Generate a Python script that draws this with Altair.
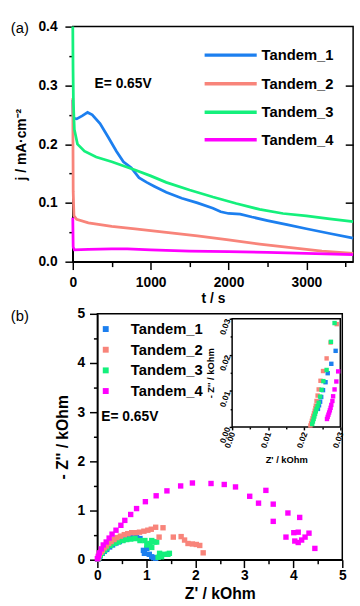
import altair as alt
import pandas as pd

FONT = "Liberation Sans"
SERIES = ["Tandem_1", "Tandem_2", "Tandem_3", "Tandem_4"]
COLORS = ["#1C7FEF", "#F8847A", "#14F07C", "#FF00FF"]

# ---------- (a) current density vs time ----------
t1 = [0, 3, 10, 50, 120, 190, 250, 350, 450, 560, 650, 750, 850, 950, 1050, 1200,
      1400, 1600, 1800, 1900, 2000, 2150, 2300, 2500, 2750, 3000, 3300, 3600]
j1 = [0.275, 0.250, 0.244, 0.243, 0.248, 0.254, 0.250, 0.235, 0.213, 0.188, 0.170,
      0.160, 0.143, 0.135, 0.128, 0.118, 0.108, 0.100, 0.091, 0.085, 0.082, 0.081,
      0.076, 0.070, 0.063, 0.056, 0.048, 0.040]
t2 = [0, 5, 15, 50, 200, 500, 800, 1200, 1600, 2000, 2400, 2800, 3200, 3600]
j2 = [0.278, 0.120, 0.078, 0.072, 0.066, 0.060, 0.056, 0.050, 0.044, 0.037, 0.030,
      0.024, 0.018, 0.014]
t3 = [0, 3, 8, 20, 60, 150, 300, 500, 800, 1000, 1200, 1500, 1800, 2100, 2400, 2700,
      3000, 3300, 3600]
j3 = [0.400, 0.330, 0.270, 0.225, 0.200, 0.188, 0.178, 0.170, 0.156, 0.146, 0.135,
      0.122, 0.110, 0.099, 0.089, 0.082, 0.078, 0.073, 0.068]
t4 = [0, 5, 20, 200, 500, 700, 1000, 1500, 2000, 2500, 3000, 3600]
j4 = [0.075, 0.025, 0.020, 0.021, 0.022, 0.022, 0.020, 0.018, 0.017, 0.016, 0.014, 0.012]

T_TICKS = [0, 500, 1000, 1500, 2000, 2500, 3000, 3500]
J_TICKS = [0, 0.05, 0.1, 0.15, 0.2, 0.25, 0.3, 0.35, 0.4]

# legend placement for panel (a), in the panel's own data units
LEG_T0, LEG_T1, LEG_TL = 1693, 2362, 2425
LEG_J = [0.3515, 0.3029, 0.2544, 0.2075]

# ---------- (b) Nyquist plot ----------
zr1 = [0.01, 0.03, 0.06, 0.10, 0.14, 0.19, 0.25, 0.31, 0.38, 0.45, 0.52, 0.59, 0.66,
       0.73, 0.80, 0.87, 0.94, 1.01, 0.96, 1.06, 1.11, 1.15, 1.19]
zi1 = [0.01, 0.04, 0.08, 0.13, 0.17, 0.21, 0.26, 0.30, 0.34, 0.37, 0.40, 0.42, 0.44,
       0.46, 0.45, 0.43, 0.19, 0.23, 0.13, 0.11, 0.06, 0.04, 0.03]
zr2 = [0.01, 0.02, 0.04, 0.07, 0.10, 0.14, 0.18, 0.23, 0.28, 0.34, 0.40, 0.47, 0.55,
       0.62, 0.70, 0.78, 0.86, 0.95, 1.03, 1.10, 1.19, 1.34, 1.26, 1.55, 1.71, 1.78,
       1.85, 1.94, 2.02, 2.09, 2.16]
zi2 = [0.02, 0.05, 0.10, 0.15, 0.19, 0.24, 0.28, 0.33, 0.37, 0.41, 0.45, 0.48, 0.51,
       0.53, 0.55, 0.55, 0.56, 0.58, 0.60, 0.62, 0.66, 0.65, 0.46, 0.46, 0.47, 0.40,
       0.33, 0.32, 0.31, 0.29, 0.14]
zr3 = [0.01, 0.03, 0.06, 0.10, 0.15, 0.20, 0.27, 0.35, 0.43, 0.52, 0.60, 0.68, 0.77,
       0.87, 0.97, 1.11, 1.17, 1.07, 1.01, 1.11, 1.21, 1.27, 1.37, 1.47, 1.31, 1.24, 1.44]
zi3 = [0.02, 0.05, 0.09, 0.14, 0.19, 0.24, 0.29, 0.33, 0.36, 0.39, 0.41, 0.42, 0.43,
       0.39, 0.39, 0.39, 0.36, 0.33, 0.30, 0.25, 0.36, 0.13, 0.11, 0.13, 0.06, 0.05, 0.11]
zr4 = [0.00, 0.02, 0.04, 0.08, 0.12, 0.18, 0.24, 0.30, 0.38, 0.48, 0.56, 0.68, 0.80,
       0.98, 1.20, 1.42, 1.70, 1.94, 2.32, 2.59, 2.82, 3.11, 3.29, 3.44, 3.59, 3.59,
       3.89, 3.85, 4.13, 4.01, 4.10, 4.03, 4.10, 4.17, 4.24, 4.32, 4.44]
zi4 = [0.02, 0.07, 0.14, 0.22, 0.30, 0.36, 0.44, 0.52, 0.60, 0.70, 0.80, 0.92, 1.04,
       1.18, 1.30, 1.40, 1.50, 1.56, 1.55, 1.53, 1.48, 1.29, 1.15, 1.41, 1.13, 0.78,
       0.95, 0.46, 0.86, 0.55, 0.56, 0.38, 0.35, 0.40, 0.46, 0.54, 0.23]

# inset (high-frequency region)
izr1 = [0.0238, 0.0241, 0.0244, 0.0247, 0.0252, 0.0259, 0.0265, 0.0275, 0.0287]
izi1 = [0.0050, 0.0060, 0.0070, 0.0083, 0.0102, 0.0124, 0.0149, 0.0175, 0.0211]
izr2 = [0.0217, 0.0219, 0.0221, 0.0223, 0.0225, 0.0227, 0.0229, 0.0231, 0.0232,
        0.0234, 0.0237, 0.0240, 0.0245, 0.0252, 0.0262, 0.0273, 0.0290]
izi2 = [0.0004, 0.0010, 0.0017, 0.0024, 0.0031, 0.0038, 0.0045, 0.0052, 0.0059,
        0.0072, 0.0087, 0.0104, 0.0128, 0.0155, 0.0190, 0.0234, 0.0285]
izr3 = [0.0222, 0.0224, 0.0226, 0.0228, 0.0230, 0.0232, 0.0234, 0.0237, 0.0240,
        0.0244, 0.0248, 0.0253, 0.0262, 0.0274, 0.0284]
izi3 = [0.0008, 0.0015, 0.0022, 0.0029, 0.0036, 0.0043, 0.0050, 0.0058, 0.0067,
        0.0084, 0.0103, 0.0127, 0.0158, 0.0236, 0.0288]
izr4 = [0.0263, 0.0265, 0.0267, 0.0269, 0.0271, 0.0273, 0.0275, 0.0278, 0.0280,
        0.0284, 0.0289, 0.0294]
izi4 = [0.0022, 0.0028, 0.0034, 0.0040, 0.0046, 0.0053, 0.0061, 0.0072, 0.0085,
        0.0104, 0.0126, 0.0154]

Z_TICKS = [0, 0.5, 1, 1.5, 2, 2.5, 3, 3.5, 4, 4.5, 5]
I_TICKS = [0, 0.005, 0.01, 0.015, 0.02, 0.025, 0.03]

# inset geometry inside panel (b): 110 px square, 162 px right / 135 px up from the origin
INSET_PX = 110.0
IN_LEFT, IN_BOTTOM, PANEL_W, PANEL_H = 162, 135, 274, 250
PER_PX = 0.03 / INSET_PX
IY_DOMAIN = [-IN_BOTTOM * PER_PX, -IN_BOTTOM * PER_PX + PANEL_H * PER_PX]


def df(xs, ys, name, xn, yn):
    return pd.DataFrame({xn: xs, yn: ys, "series": name})


top_df = pd.concat([df(t1, j1, SERIES[0], "t", "j"), df(t2, j2, SERIES[1], "t", "j"),
                    df(t3, j3, SERIES[2], "t", "j"), df(t4, j4, SERIES[3], "t", "j")])
nyq_df = pd.concat([df(zr1, zi1, SERIES[0], "zr", "zi"), df(zr3, zi3, SERIES[2], "zr", "zi"),
                    df(zr2, zi2, SERIES[1], "zr", "zi"), df(zr4, zi4, SERIES[3], "zr", "zi")])
ins_df = pd.concat([df(izr1, izi1, SERIES[0], "ix", "iy"), df(izr2, izi2, SERIES[1], "ix", "iy"),
                    df(izr3, izi3, SERIES[2], "ix", "iy"), df(izr4, izi4, SERIES[3], "ix", "iy")])
leg_df = pd.DataFrame({"series": SERIES, "t": LEG_T0, "t2": LEG_T1, "tl": LEG_TL, "j": LEG_J})

color_scale = alt.Scale(domain=SERIES, range=COLORS)

# ---------- top panel ----------
top_x_axis = alt.Axis(values=T_TICKS, title="t / s",
                      labelExpr="datum.value % 1000 == 0 ? format(datum.value, 'd') : ''",
                      tickSize={"condition": {"test": "datum.value % 1000 == 0", "value": 8}, "value": 5},
                      labelFontSize=14, titleFontSize=14, labelPadding=6, titlePadding=3,
                      labelFlush=False)
top_y_axis = alt.Axis(values=J_TICKS, title="j / mA·cm⁻²",
                      labelExpr="round(datum.value * 20) % 2 == 0 ? format(datum.value, '.1f') : ''",
                      tickSize={"condition": {"test": "round(datum.value * 20) % 2 == 0", "value": 8}, "value": 4},
                      labelFontSize=14, titleFontSize=14, labelPadding=8, titlePadding=10,
                      labelFlush=False)

t_x = alt.X("t:Q", scale=alt.Scale(domain=[0, 3600], nice=False), axis=top_x_axis)
j_y = alt.Y("j:Q", scale=alt.Scale(domain=[0, 0.4], nice=False), axis=top_y_axis)
top_color = alt.Color("series:N", scale=color_scale, legend=None)

lines = alt.Chart(top_df).mark_line(strokeWidth=2.8).encode(x=t_x, y=j_y, color=top_color)

leg_lines = alt.Chart(leg_df).mark_rule(strokeWidth=3.5).encode(
    x=t_x, x2="t2:Q", y=j_y, color=top_color)
leg_text = alt.Chart(leg_df).mark_text(
    align="left", baseline="middle", font=FONT, fontSize=15, fontWeight="bold", color="black"
).encode(x=alt.X("tl:Q", scale=alt.Scale(domain=[0, 3600], nice=False), axis=top_x_axis),
         y=j_y, text="series:N")

ann_top = alt.Chart(pd.DataFrame({"t": [280], "j": [0.302], "label": ["E= 0.65V"]})).mark_text(
    align="left", baseline="middle", font=FONT, fontSize=14, fontWeight="bold", color="black"
).encode(
    x=t_x,
    y=alt.Y("j:Q", scale=alt.Scale(domain=[0, 0.4], nice=False),
            axis=alt.Axis(orient="right", offset=-8, values=[0.1, 0.2, 0.3], labels=False,
                          domain=False, tickSize=8, title=None)),
    text="label:N",
)

lab_a = alt.Chart(pd.DataFrame({"k": [0]})).mark_text(
    align="left", baseline="middle", font=FONT, fontSize=15, color="black"
).encode(x=alt.value(-63), y=alt.value(1), text=alt.value("(a)"))

top = alt.layer(
    alt.layer(lines, leg_lines, leg_text), ann_top, lab_a
).resolve_scale(y="independent").properties(width=285, height=239)

# ---------- bottom panel ----------
bottom_legend = alt.Legend(title=None, orient="none", legendX=26, legendY=8, padding=0,
                           symbolType="square", symbolSize=36, symbolOpacity=1,
                           labelFont=FONT, labelFontSize=15, labelFontWeight="bold",
                           labelColor="black", labelOffset=18, rowPadding=5)

half = "round(datum.value * 2) % 2 == 0"
bx_axis = alt.Axis(values=Z_TICKS, title="Z' / kOhm",
                   labelExpr=half + " ? format(datum.value, 'd') : ''",
                   tickSize={"condition": {"test": half, "value": 8}, "value": 4},
                   labelFontSize=14, titleFontSize=16, labelPadding=1, titlePadding=3,
                   labelFlush=False)
by_axis = alt.Axis(values=Z_TICKS, title="- Z'' / kOhm", offset=-25,
                   labelExpr=half + " ? format(datum.value, 'd') : ''",
                   tickSize={"condition": {"test": half, "value": 8}, "value": 4},
                   labelFontSize=14, titleFontSize=16, labelPadding=5, titlePadding=7,
                   labelFlush=False)

main_x = alt.X("zr:Q", scale=alt.Scale(domain=[0, 5], range=[25, PANEL_W], nice=False), axis=bx_axis)
main_y = alt.Y("zi:Q", scale=alt.Scale(domain=[0, 5], nice=False), axis=by_axis)

frame_main = alt.Chart(pd.DataFrame({"zr": [0], "zr2": [5], "zi": [0], "zi2": [5]})).mark_rect(
    fillOpacity=0, stroke="black", strokeWidth=1.5
).encode(x=main_x, x2="zr2:Q", y=main_y, y2="zi2:Q")

scatter = alt.Chart(nyq_df).mark_square(size=30, opacity=1).encode(
    x=main_x, y=main_y,
    color=alt.Color("series:N", scale=color_scale, legend=bottom_legend),
)

ann_b = alt.Chart(pd.DataFrame({"zr": [0.08], "zi": [2.9], "label": ["E= 0.65V"]})).mark_text(
    align="left", baseline="middle", font=FONT, fontSize=14, fontWeight="bold", color="black"
).encode(x=main_x, y=main_y, text="label:N")

lab_b = alt.Chart(pd.DataFrame({"k": [0]})).mark_text(
    align="left", baseline="middle", font=FONT, fontSize=15, color="black"
).encode(x=alt.value(-63), y=alt.value(2), text=alt.value("(b)"))

inset_tick = "round(datum.value * 200) % 2 == 0"
ix_axis = alt.Axis(values=I_TICKS, title="Z' / kOhm", orient="bottom", offset=-IN_BOTTOM,
                   labelExpr=inset_tick + " ? format(datum.value, '.2f') : ''",
                   tickSize={"condition": {"test": inset_tick, "value": 3}, "value": 2},
                   labelAngle=290, labelAlign="right", labelBaseline="middle",
                   labelFontSize=8.5, titleFontSize=9.5, labelPadding=2,
                   titleX=IN_LEFT + INSET_PX / 2, titleY=33, titleBaseline="middle",
                   domain=False, labelFlush=False, labelOverlap=False)
iy_axis = alt.Axis(values=I_TICKS, title="- Z'' / kOhm", orient="left", offset=-IN_LEFT,
                   labelExpr=inset_tick + " ? format(datum.value, '.2f') : ''",
                   tickSize={"condition": {"test": inset_tick, "value": 3}, "value": 2},
                   labelAngle=290, labelAlign="right", labelBaseline="middle",
                   labelFontSize=8.5, titleFontSize=9.5, labelPadding=2,
                   titleX=-22, titleY=PANEL_H - IN_BOTTOM - INSET_PX / 2, titleBaseline="middle",
                   domain=False, labelFlush=False, labelOverlap=False)

inset_x = alt.X("ix:Q", scale=alt.Scale(domain=[0, 0.03], range=[IN_LEFT, IN_LEFT + INSET_PX],
                                        nice=False, zero=False), axis=ix_axis)
inset_y = alt.Y("iy:Q", scale=alt.Scale(domain=IY_DOMAIN, nice=False, zero=False), axis=iy_axis)

inset_box = alt.Chart(pd.DataFrame({"ix": [0], "ix2": [0.03], "iy": [0], "iy2": [0.03]})).mark_rect(
    fill="white", stroke="black", strokeWidth=1.5
).encode(x=inset_x, x2="ix2:Q", y=inset_y, y2="iy2:Q")

inset_pts = alt.Chart(ins_df).mark_square(size=20, opacity=1).encode(
    x=inset_x, y=inset_y,
    color=alt.Color("series:N", scale=color_scale, legend=bottom_legend),
)

bottom = alt.layer(
    alt.layer(frame_main, scatter, ann_b, lab_b),
    alt.layer(inset_box, inset_pts),
).resolve_scale(x="independent", y="independent").properties(
    width=PANEL_W, height=PANEL_H, view=alt.ViewBackground(stroke=None)
)

chart = alt.vconcat(top, bottom, spacing=53, bounds="flush").resolve_scale(
    color="independent"
).properties(
    padding={"left": 10, "top": 14, "right": 0, "bottom": 0}
).configure_axis(
    labelFont=FONT, titleFont=FONT, labelFontWeight="bold", titleFontWeight="bold",
    labelColor="black", titleColor="black", domainColor="black", tickColor="black",
    domainWidth=1.5, tickWidth=1.5, grid=False
).configure_view(stroke="black", strokeWidth=1.5)

chart.save("out.html", embed_options={"renderer": "svg", "actions": False})
